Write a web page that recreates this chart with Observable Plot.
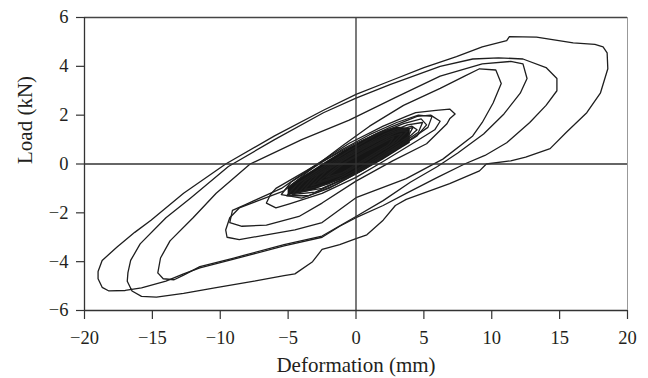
<!DOCTYPE html>
<html>
<head>
<meta charset="utf-8">
<script src="https://cdn.jsdelivr.net/npm/d3@7"></script>
<script src="https://cdn.jsdelivr.net/npm/@observablehq/plot@0.6"></script>
<style>
  html, body { margin: 0; padding: 0; background: #fff; }
  #chart svg { display: block; }
</style>
</head>
<body>
<div id="chart"></div>
<script>
// Tick values
const xTicks = [-20, -15, -10, -5, 0, 5, 10, 15, 20];
const yTicks = [-6, -4, -2, 0, 2, 4, 6];
const xLabel = "Deformation (mm)";
const yLabel = "Load (kN)";

// Hysteresis paths: [deformation (mm), load (kN)]
const pathOuter = [
  [-19.0,-4.4],[-18.7,-3.95],[-17.6,-3.4],[-16.3,-2.8],[-15.1,-2.3],[-12.7,-1.2],[-9.6,0],[-6,1.15],[-2.4,2.2],[0,2.85],
  [2.5,3.4],[5,3.95],[7.4,4.4],[9.3,4.8],[11.1,5.05],[11.3,5.22],[13.3,5.2],[16,4.96],[17.6,4.9],[18.2,4.8],[18.5,4.55],
  [18.55,3.9],[18,2.9],[17,2.1],[15.5,1.3],[14.3,0.63],[12.5,0.28],[11.4,0.13],[9.6,0],[9.1,-0.28],[6.9,-0.8],[3.7,-1.45],
  [2.9,-1.7],[2,-2.3],[0.8,-2.9],[0,-3.06],[-1.2,-3.3],[-2.5,-3.5],[-3.2,-4.0],[-4.5,-4.5],[-5.3,-4.57],[-7.5,-4.8],
  [-10.3,-5.06],[-12.7,-5.3],[-14.7,-5.45],[-15.8,-5.42],[-16.5,-5.2],[-16.85,-4.8],[-16.8,-4.45],
  [-16.6,-3.95],[-15.9,-3.27],[-14,-2.2],[-12.2,-1.4],[-9.4,-0.1],[-6,1.0],[-2.4,2.1],[0,2.7],[2.5,3.25],[6.2,4.0],
  [8.6,4.3],[10.5,4.35],[12.3,4.3],[14,3.95],[14.8,3.5],[14.8,3.0],[14,2.4],[12.8,1.7],[11.1,0.87],[9.5,0.35],[8,0],
  [6,-0.55],[3.7,-1.2],[2,-1.7],[0,-2.2],[-1.2,-2.55],[-2.5,-3.0],[-5.3,-3.35],[-9,-3.9],[-11.5,-4.25],[-12.7,-4.5],
  [-14,-4.8],[-15.8,-5.07],[-17,-5.18],[-18.2,-5.2],[-18.7,-5.05],[-19,-4.7],[-19,-4.4]
];
const pathC = [
  [-14.6,-4.46],[-14.4,-3.85],[-13.7,-3.15],[-12,-2.2],[-10.3,-1.2],[-7.8,0],[-4,1.0],[-0.5,1.8],[3,2.75],[6.2,3.6],
  [9.3,4.1],[11.4,4.2],[12.3,4.1],[12.6,3.5],[12.1,2.9],[10.9,2.05],[9.4,1.23],[7.5,0.45],[6,-0.1],[4,-0.75],[2,-1.5],
  [0,-2.15],[-2.5,-2.95],[-5.3,-3.3],[-9,-3.85],[-11.5,-4.2],[-12.7,-4.55],[-13.4,-4.74],[-14.2,-4.7],[-14.6,-4.46]
];
const pathD = [
  [-9.5,-3.0],[-9.6,-2.7],[-9.3,-2.2],[-8.6,-1.8],[-7.2,-1.5],[-5.3,-1.1],[-3.5,-0.3],[-1,0.75],[1,1.55],[3.5,2.4],
  [6.2,3.1],[8,3.6],[9.1,3.9],[10.3,3.85],[10.7,3.3],[10.1,2.5],[9.3,1.7],[8.6,1.15],[6.4,0.2],[3.7,-0.6],[0,-1.38],
  [-2.5,-2.4],[-4.5,-2.7],[-6.6,-2.9],[-8.6,-3.1],[-9.5,-3.0]
];
const pathE = [
  [-9.3,-2.4],[-9.1,-1.9],[-8.1,-1.65],[-7.3,-1.45],[-5.5,-1.0],[-3.4,-0.2],[-0.5,0.85],[2,1.55],[3.7,1.95],[4.4,2.1],
  [5.9,2.2],[6.9,2.25],[7.3,2.05],[6.9,1.85],[6.7,1.65],[5.2,0.83],[2.7,0.13],[0,-0.7],[-2.5,-1.6],[-4.2,-2.15],
  [-6.6,-2.5],[-8.4,-2.55],[-9.3,-2.4]
];
const pathF = [
  [-6.6,-1.6],[-6.3,-1.25],[-5.9,-1.0],[-4.5,-0.55],[-2.5,0.1],[0,0.85],[2.5,1.5],[4.5,1.95],[5.5,2.0],[6.2,1.75],
  [5.8,1.4],[4.5,0.95],[2,0.1],[0,-0.55],[-2.5,-1.2],[-4.9,-1.63],[-5.9,-1.8],[-6.6,-1.6]
];
// small cycles of the dense core
const smallCycles = [
  [[-5.5,-1.25],[-4.8,-0.75],[-3,-0.1],[-1,0.6],[1,1.2],[3,1.7],[4.6,2.0],[5.6,1.95],[5.3,1.5],[4,1.0],[2,0.3],[0,-0.4],[-2,-1.0],[-4,-1.4],[-5.5,-1.25]],
  [[-5.1,-1.3],[-4.3,-0.8],[-2.5,-0.15],[-0.5,0.55],[1.5,1.2],[3.5,1.65],[4.8,1.85],[5.2,1.6],[4.5,1.15],[2.5,0.45],[0.5,-0.25],[-1.5,-0.85],[-3.5,-1.3],[-5.1,-1.3]],
  [[-4.7,-1.25],[-3.8,-0.7],[-2,-0.05],[0,0.6],[2,1.2],[3.8,1.6],[4.9,1.7],[4.6,1.3],[3,0.7],[1,0.0],[-1,-0.65],[-3,-1.15],[-4.7,-1.25]],
  [[-4.2,-1.15],[-3.2,-0.55],[-1.5,0.05],[0.5,0.7],[2.5,1.25],[4.1,1.55],[4.5,1.4],[3.5,0.9],[1.5,0.2],[-0.5,-0.5],[-2.5,-1.0],[-4.2,-1.15]],
  [[-3.8,-1.05],[-2.8,-0.45],[-1,0.15],[1,0.8],[3,1.3],[4.2,1.5],[3.8,1.1],[2,0.45],[0,-0.25],[-2,-0.8],[-3.8,-1.05]],
  [[-3.3,-0.9],[-2.2,-0.3],[-0.5,0.3],[1.5,0.9],[3.2,1.35],[3.8,1.35],[3,0.9],[1,0.25],[-1,-0.45],[-3.3,-0.9]],
  [[-2.8,-0.75],[-1.5,-0.15],[0.5,0.5],[2.5,1.1],[3.4,1.25],[2.5,0.75],[0.5,0.05],[-1.5,-0.5],[-2.8,-0.75]],
  [[-2.2,-0.55],[-0.8,0.05],[1,0.6],[2.8,1.1],[2.4,0.8],[0.5,0.15],[-1,-0.35],[-2.2,-0.55]]
];
// solid core band of overlapping small cycles
const coreX  = [-5, -4, -3, -2, -1, 0, 1, 2, 3, 4];
const coreLo = [-1.3, -1.2, -1.05, -0.85, -0.65, -0.45, -0.15, 0.15, 0.5, 0.85];
const coreHi = [-0.95, -0.55, -0.2, 0.15, 0.5, 0.8, 1.1, 1.35, 1.5, 1.45];

const rows = [];
const addPath = (pts, id) => pts.forEach(([x, y], i) => rows.push({x, y, id, i}));
addPath(pathOuter, "outer");
addPath(pathC, "C");
addPath(pathD, "D");
addPath(pathE, "E");
addPath(pathF, "F");
smallCycles.forEach((c, k) => addPath(c, "k" + k));
const core = coreX.map((x, i) => ({x, lo: coreLo[i], hi: coreHi[i]}));

const ink = "#1e1e1e";
const textInk = "#231f20";

const chart = Plot.plot({
  width: 648,
  height: 378,
  marginLeft: 84,
  marginRight: 21,
  marginTop: 17,
  marginBottom: 68,
  style: {fontFamily: "'Liberation Serif', 'DejaVu Serif', serif", color: textInk, background: "#fff"},
  x: {domain: [-20, 20]},
  y: {domain: [-6, 6]},
  marks: [
    Plot.areaY(core, {x: "x", y1: "lo", y2: "hi", fill: "#161616", curve: "catmull-rom"}),
    Plot.line(rows, {x: "x", y: "y", z: "id", stroke: ink, strokeWidth: 1.3, curve: "linear", strokeLinejoin: "round"}),
    Plot.ruleX([0], {stroke: "#333", strokeWidth: 1.3}),
    Plot.ruleY([0], {stroke: "#333", strokeWidth: 1.3}),
    Plot.ruleY([6], {stroke: "#444", strokeWidth: 1.4}),
    Plot.ruleX([20], {stroke: "#999", strokeWidth: 1}),
    Plot.ruleX([-20], {stroke: "#333", strokeWidth: 1.3}),
    Plot.ruleY([-6], {stroke: "#333", strokeWidth: 1.3}),
    Plot.axisX({ticks: xTicks, tickSize: 9, tickPadding: 11, fontSize: 18.5, label: null, stroke: "#333", strokeWidth: 1.2, fill: textInk}),
    Plot.axisY({ticks: yTicks, tickSize: 8, tickPadding: 8, fontSize: 18.5, label: null, stroke: "#333", strokeWidth: 1.2, fill: textInk}),
    Plot.text([xLabel], {text: d => d, frameAnchor: "bottom", dy: 61, fontSize: 21, fill: textInk}),
    Plot.text([yLabel], {text: d => d, frameAnchor: "left", dx: -59, rotate: -90, fontSize: 21, fill: textInk})
  ]
});
document.getElementById("chart").appendChild(chart);
</script>
</body>
</html>
